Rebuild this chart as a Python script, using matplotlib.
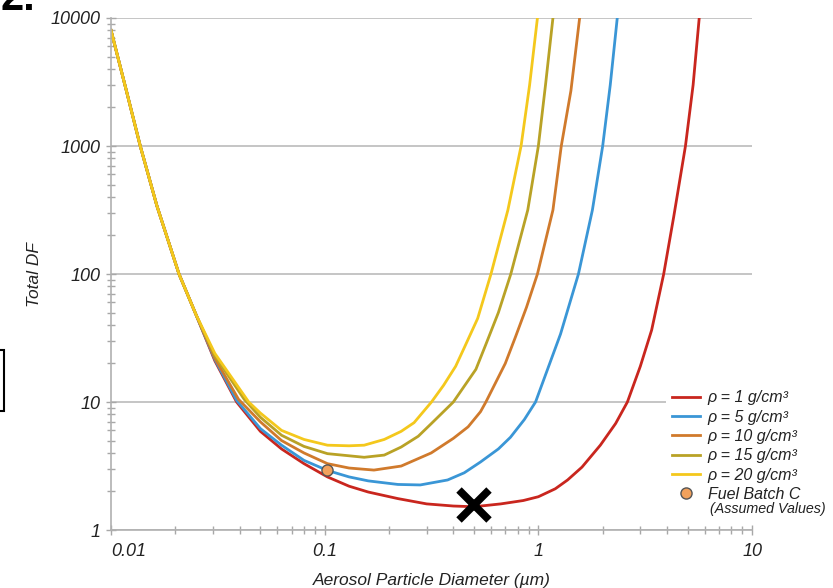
import matplotlib
matplotlib.use("Agg")
import matplotlib.pyplot as plt
from matplotlib.patches import Rectangle
from matplotlib.ticker import LogLocator

plt.rcParams['font.family'] = ['Liberation Sans', 'DejaVu Sans']

# curve data (diameter in um, total DF)
d_red = [0.01, 0.0118, 0.0137, 0.0164, 0.0208, 0.025, 0.0306, 0.0387, 0.05, 0.0628, 0.08, 0.103, 0.13, 0.16,
         0.22, 0.3, 0.4, 0.5, 0.667, 0.85, 1.0, 1.2, 1.37, 1.6, 1.95, 2.3, 2.61, 3.0, 3.39, 3.86, 4.3, 4.88,
         5.3, 5.66]
df_red = [8000, 2700, 1000, 340, 100, 48, 21, 10, 5.9, 4.3, 3.3, 2.6, 2.2, 1.98,
          1.76, 1.6, 1.54, 1.52, 1.6, 1.7, 1.82, 2.1, 2.46, 3.1, 4.6, 6.8, 10, 19, 36.5, 100, 280, 1000,
          3000, 10000]

d_blue = [0.01, 0.0118, 0.0137, 0.0164, 0.0208, 0.025, 0.0306, 0.0387, 0.05, 0.0628, 0.08, 0.103, 0.13, 0.16,
          0.22, 0.28, 0.376, 0.45, 0.536, 0.65, 0.74, 0.86, 0.97, 1.13, 1.27, 1.54, 1.79, 2.0, 2.17, 2.34]
df_blue = [8000, 2700, 1000, 340, 100, 48, 21.5, 10.3, 6.2, 4.6, 3.5, 2.92, 2.6, 2.42,
           2.27, 2.25, 2.46, 2.8, 3.4, 4.3, 5.3, 7.3, 10, 20, 34, 100, 316, 1000, 3000, 10000]

d_orange = [0.01, 0.0118, 0.0137, 0.0164, 0.0208, 0.025, 0.0306, 0.0395, 0.05, 0.0628, 0.08, 0.103, 0.13,
            0.17, 0.228, 0.315, 0.4, 0.469, 0.536, 0.568, 0.7, 0.78, 0.88, 0.99, 1.17, 1.28, 1.42, 1.56]
df_orange = [8000, 2700, 1000, 340, 100, 48, 22, 10.5, 7.0, 5.0, 4.0, 3.3, 3.05,
             2.94, 3.16, 4.0, 5.2, 6.4, 8.4, 10, 20, 32, 55, 100, 316, 1000, 2700, 10000]

d_olive = [0.01, 0.0118, 0.0137, 0.0164, 0.0208, 0.025, 0.0306, 0.042, 0.05, 0.0628, 0.08, 0.103, 0.153,
           0.19, 0.228, 0.274, 0.316, 0.4, 0.51, 0.567, 0.65, 0.743, 0.892, 1.0, 1.08, 1.17]
df_olive = [8000, 2700, 1000, 340, 100, 48, 23, 10.5, 7.6, 5.5, 4.5, 3.95, 3.7,
            3.85, 4.45, 5.4, 6.8, 10, 18, 28, 50, 100, 316, 1000, 3000, 10000]

d_yellow = [0.01, 0.0118, 0.0137, 0.0164, 0.0208, 0.025, 0.0306, 0.0441, 0.05, 0.0628, 0.08, 0.103, 0.13,
            0.153, 0.19, 0.228, 0.262, 0.316, 0.36, 0.41, 0.452, 0.52, 0.6, 0.72, 0.83, 0.91, 0.99]
df_yellow = [8000, 2700, 1000, 340, 100, 48, 24, 10, 8.2, 6.0, 5.1, 4.6, 4.55,
             4.6, 5.1, 5.9, 6.9, 10, 13.5, 19, 27, 45, 100, 316, 1000, 3000, 10000]

series = [
    (d_red, df_red, "ρ = 1 g/cm³", "#C9261E"),
    (d_blue, df_blue, "ρ = 5 g/cm³", "#3A96D6"),
    (d_orange, df_orange, "ρ = 10 g/cm³", "#D07A2C"),
    (d_olive, df_olive, "ρ = 15 g/cm³", "#B9A226"),
    (d_yellow, df_yellow, "ρ = 20 g/cm³", "#F4C81C"),
]

fuel_d = [0.103]
fuel_df = [2.94]
mark_d = [0.5]
mark_df = [1.58]

fig = plt.figure(figsize=(8.33, 5.88), dpi=100)
ax = fig.add_axes([0.1333, 0.0986, 0.7695, 0.8708])

for d, df, lab, col in series:
    ax.plot(d, df, color=col, lw=2, label=lab, solid_joinstyle='round')

ax.plot(fuel_d, fuel_df, 'o', ms=8, mfc='#F2A15C', mec='#555555', mew=1, ls='none',
        label="Fuel Batch C", zorder=5)
ax.plot(mark_d, mark_df, 'x', ms=22, mew=5.5, color='black', zorder=6)

ax.set_xscale('log')
ax.set_yscale('log')
ax.set_xlim(0.01, 10)
ax.set_ylim(1, 10000)

for s in ['top', 'right']:
    ax.spines[s].set_visible(False)
for s in ['left', 'bottom']:
    ax.spines[s].set_color('#b0b0b0')
    ax.spines[s].set_linewidth(1.2)

ax.yaxis.grid(True, which='major', color='#c0c0c0', lw=1.3)
ax.set_axisbelow(True)

ax.set_xticks([0.01, 0.1, 1, 10])
ax.set_xticklabels(['0.01', '0.1', '1', '10'])
ax.set_yticks([1, 10, 100, 1000, 10000])
ax.set_yticklabels(['1', '10', '100', '1000', '10000'])
ax.xaxis.set_minor_locator(LogLocator(base=10, subs=range(2, 10)))
ax.yaxis.set_minor_locator(LogLocator(base=10, subs=range(2, 10)))
ax.tick_params(which='both', direction='inout', color='#a8a8a8', width=1)
ax.tick_params(which='major', length=7)
ax.tick_params(which='minor', length=6)
ax.tick_params(axis='x', which='major', pad=6)
ax.tick_params(axis='y', which='major', pad=4)
for t in ax.get_xticklabels() + ax.get_yticklabels():
    t.set_fontstyle('italic')
    t.set_fontsize(13)
    t.set_color('#222222')
ax.get_xticklabels()[0].set_horizontalalignment('left')

ax.set_xlabel("Aerosol Particle Diameter (µm)", fontsize=12.5, style='italic', color='#222222', labelpad=9)
ax.set_ylabel("Total DF", fontsize=12.5, style='italic', color='#222222', labelpad=6)

leg = fig.legend(loc='upper left', bbox_to_anchor=(0.7894, 0.3605), frameon=True, fancybox=False,
                 facecolor='white', edgecolor='none', framealpha=1,
                 handlelength=1.75, handletextpad=0.5, labelspacing=0.27,
                 prop={'style': 'italic', 'size': 11.5})
for t in leg.get_texts():
    t.set_color('#222222')
fig.text(0.852, 1 - 509 / 588, "(Assumed Values)", fontsize=10.3, style='italic', color='#222222',
         va='center', zorder=10)

# cropped fragments around the edges of the original picture
fig.text(0.0, 1 - 10 / 588, "2.", fontsize=30, weight='bold', va='baseline', ha='left')
fig.patches.append(Rectangle((-0.05, 1 - 411 / 588), 0.05 + 4 / 833, 61 / 588, transform=fig.transFigure,
                             fill=False, ec='black', lw=1.5))

fig.savefig("out.png", dpi=100)
